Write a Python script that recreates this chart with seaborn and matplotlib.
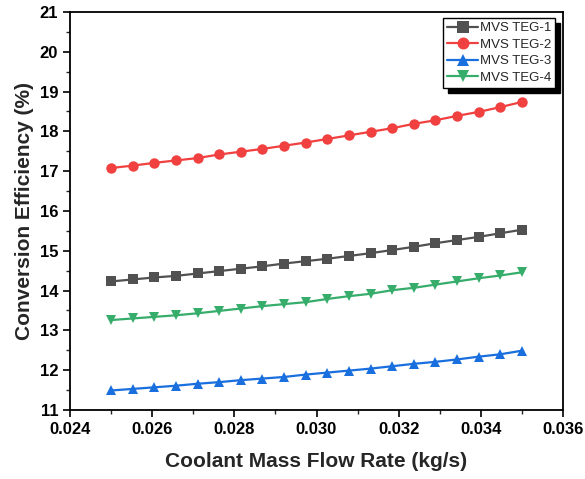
import numpy as np
import pandas as pd
import matplotlib
matplotlib.use("Agg")
import matplotlib.pyplot as plt
from matplotlib.ticker import MultipleLocator
import seaborn as sns

flow = [0.025 + i * (0.010 / 19) for i in range(20)]
teg1 = [14.23, 14.28, 14.33, 14.37, 14.43, 14.49, 14.55, 14.61, 14.68, 14.74,
        14.80, 14.87, 14.94, 15.02, 15.10, 15.19, 15.27, 15.35, 15.44, 15.53]
teg2 = [17.08, 17.14, 17.21, 17.27, 17.33, 17.42, 17.49, 17.56, 17.64, 17.72,
        17.81, 17.90, 17.99, 18.08, 18.19, 18.28, 18.39, 18.49, 18.61, 18.74]
teg3 = [11.49, 11.53, 11.57, 11.61, 11.66, 11.70, 11.75, 11.79, 11.83, 11.89,
        11.94, 11.99, 12.04, 12.10, 12.16, 12.21, 12.27, 12.34, 12.40, 12.49]
teg4 = [13.26, 13.30, 13.34, 13.38, 13.43, 13.49, 13.55, 13.61, 13.66, 13.71,
        13.79, 13.86, 13.92, 14.01, 14.07, 14.15, 14.23, 14.31, 14.38, 14.46]
names = ["MVS TEG-1", "MVS TEG-2", "MVS TEG-3", "MVS TEG-4"]

df = pd.concat([
    pd.DataFrame({"x": flow, "y": v, "series": n})
    for n, v in zip(names, [teg1, teg2, teg3, teg4])
])

sns.set_theme(style="ticks")
plt.rcParams['font.family'] = ['Liberation Sans', 'DejaVu Sans']

fig = plt.figure(figsize=(5.85, 4.79), dpi=100)
ax = fig.add_axes([70 / 585, 1 - 410 / 479, 493 / 585, 398 / 479])

palette = {"MVS TEG-1": "#515151", "MVS TEG-2": "#F14040",
           "MVS TEG-3": "#1A6FDF", "MVS TEG-4": "#37AD6B"}
markers = {"MVS TEG-1": "s", "MVS TEG-2": "o", "MVS TEG-3": "^", "MVS TEG-4": "v"}

sns.lineplot(data=df, x="x", y="y", hue="series", style="series",
             palette=palette, markers=markers, dashes=False,
             markersize=7.5, markeredgewidth=0, linewidth=1.6, ax=ax)

ax.set_xlim(0.024, 0.036)
ax.set_ylim(11, 21)
ax.xaxis.set_major_locator(MultipleLocator(0.002))
ax.xaxis.set_minor_locator(MultipleLocator(0.001))
ax.yaxis.set_major_locator(MultipleLocator(1))
ax.yaxis.set_minor_locator(MultipleLocator(0.5))
ax.xaxis.set_major_formatter(matplotlib.ticker.FormatStrFormatter('%.3f'))
ax.tick_params(which='major', direction='out', length=5, width=1.2,
               labelsize=12, colors='black')
ax.tick_params(which='minor', direction='out', length=3, width=1.0)
for lab in ax.get_xticklabels() + ax.get_yticklabels():
    lab.set_fontweight('bold')
for s in ax.spines.values():
    s.set_linewidth(1.3)
    s.set_color('black')

ax.set_xlabel("Coolant Mass Flow Rate (kg/s)", fontsize=15, fontweight='bold', labelpad=11)
ax.set_ylabel("Conversion Efficiency (%)", fontsize=15, fontweight='bold', labelpad=4)

leg = ax.legend(loc='upper right', bbox_to_anchor=(0.984, 0.985), fontsize=9.5,
                frameon=True, fancybox=False, edgecolor='black', framealpha=1,
                shadow={'color': 'black', 'alpha': 1, 'ox': 3.6, 'oy': -3.6},
                borderpad=0.3, labelspacing=0.33, handlelength=2.3,
                handletextpad=0.15, borderaxespad=0.0, markerscale=1.15)
leg.get_frame().set_linewidth(1.0)

fig.savefig("out.png", dpi=100)
